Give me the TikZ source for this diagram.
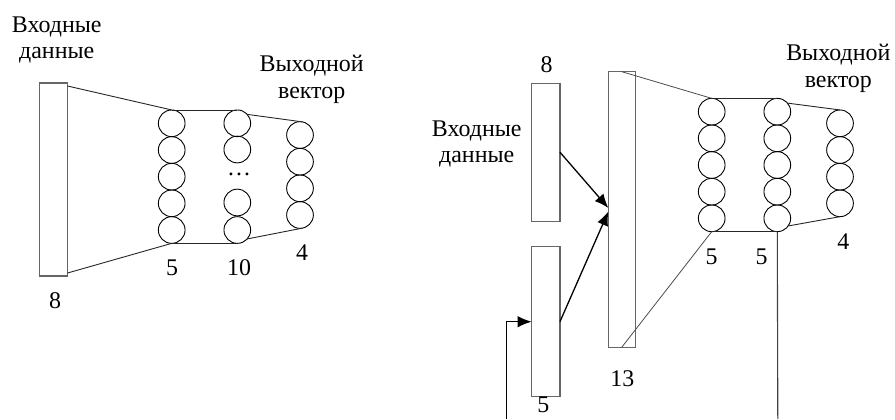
\documentclass[tikz,border=0pt]{standalone}
\usepackage{fontspec}
\setmainfont{Liberation Serif}
\usetikzlibrary{arrows.meta}
\begin{document}
\begin{tikzpicture}[x=1bp,y=-1bp,
  every node/.style={inner sep=0pt,outer sep=0pt},
  lbl/.style={font=\fontsize{24}{27}\selectfont,align=center},
  neuron/.style={circle,draw=black,line width=0.9bp,minimum size=26.7bp},
  block/.style={rectangle,draw=black!60,line width=1.1bp,fill=white},
  link/.style={draw=black!85,line width=0.9bp},
  arr/.style={draw=black,line width=1.3bp,-{Latex[length=14bp,width=11.5bp]}},
  fbline/.style={draw=black!75,line width=1.1bp}]
\useasboundingbox (0,0) rectangle (895,419);

% ---------------- left network ----------------
\node[block,minimum width=28bp,minimum height=193bp] (L) at (53.5,179.5) {};
\foreach \i/\y in {1/123.3,2/150,3/176.7,4/203.3,5/230}
  \node[neuron] (a\i) at (171.7,\y) {};
\foreach \i/\y in {1/123.3,2/149.5,4/202.5,5/230}
  \node[neuron] (b\i) at (237.3,\y) {};
\node[lbl] (bdots) at (239,174) {\dots};
\foreach \i/\y in {1/135,2/161.7,3/188.3,4/215}
  \node[neuron] (c\i) at (300,\y) {};

\draw[link] ([yshift=-3bp]L.north east) -- (a1.north);
\draw[link] ([yshift=3bp]L.south east) -- (a5.south);
\draw[link] (a1.north) -- (b1.north);
\draw[link] (a5.south) -- (b5.south);
\draw[link] (b1.42) -- (c1.80);
\draw[link] (b5.-42) -- (c4.-80);

\node[lbl] (tin1) at (56.7,40) {Входные\\данные};
\node[lbl] (tout1) at (311.7,79) {Выходной\\вектор};
\node[lbl] (n8) at (55,301) {8};
\node[lbl] (n5) at (172,268) {5};
\node[lbl] (n10) at (239,268) {10};
\node[lbl] (n4) at (302,253) {4};

% ---------------- right network ----------------
\node[block,minimum width=28.3bp,minimum height=137.7bp] (A) at (545.8,152.2) {};
\node[block,minimum width=28.3bp,minimum height=150bp] (B) at (545.8,321.7) {};
\node[block,minimum width=26.7bp,minimum height=275.7bp] (C) at (621.7,209.5) {};

\foreach \i/\y in {1/111.7,2/138.3,3/165,4/191.7,5/218.3}
  \node[neuron] (p\i) at (711.7,\y) {};
\foreach \i/\y in {1/111.7,2/138.3,3/165,4/191.7,5/218.3}
  \node[neuron] (q\i) at (777.3,\y) {};
\foreach \i/\y in {1/123.3,2/150,3/176.7,4/203.3}
  \node[neuron] (r\i) at (840,\y) {};

\draw[link,draw=black!70,line width=0.8bp] (C.north) -- (p1.north);
\draw[link,draw=black!70,line width=0.8bp] (C.south) -- (p5.south);
\draw[link] (p1.north) -- (q1.north);
\draw[link] (p5.south) -- (q5.south);
\draw[link] (q1.40) -- (r1.north);
\draw[link] (q5.-35) -- (r4.south);

\draw[arr] (A.east) -- ([yshift=1.5bp]C.west);
\draw[arr] (B.east) -- ([yshift=-2bp]C.west);

\coordinate (fbA) at (506.7,419);
\coordinate (fbQ) at (777.8,419);
\draw[arr] (fbA) |- (B.west);
\draw[fbline] (q5.south) -- (fbQ);

\node[lbl] (tin2) at (476.7,144) {Входные\\данные};
\node[lbl] (tout2) at (838.3,68) {Выходной\\вектор};
\node[lbl] (m8) at (546.7,65) {8};
\node[lbl] (m13) at (622.3,379) {13};
\node[lbl] (m5b) at (543.3,405) {5};
\node[lbl] (m5a) at (711.7,256.7) {5};
\node[lbl] (m5c) at (761.7,256.7) {5};
\node[lbl] (m4) at (843.3,241.7) {4};
\end{tikzpicture}
\end{document}
